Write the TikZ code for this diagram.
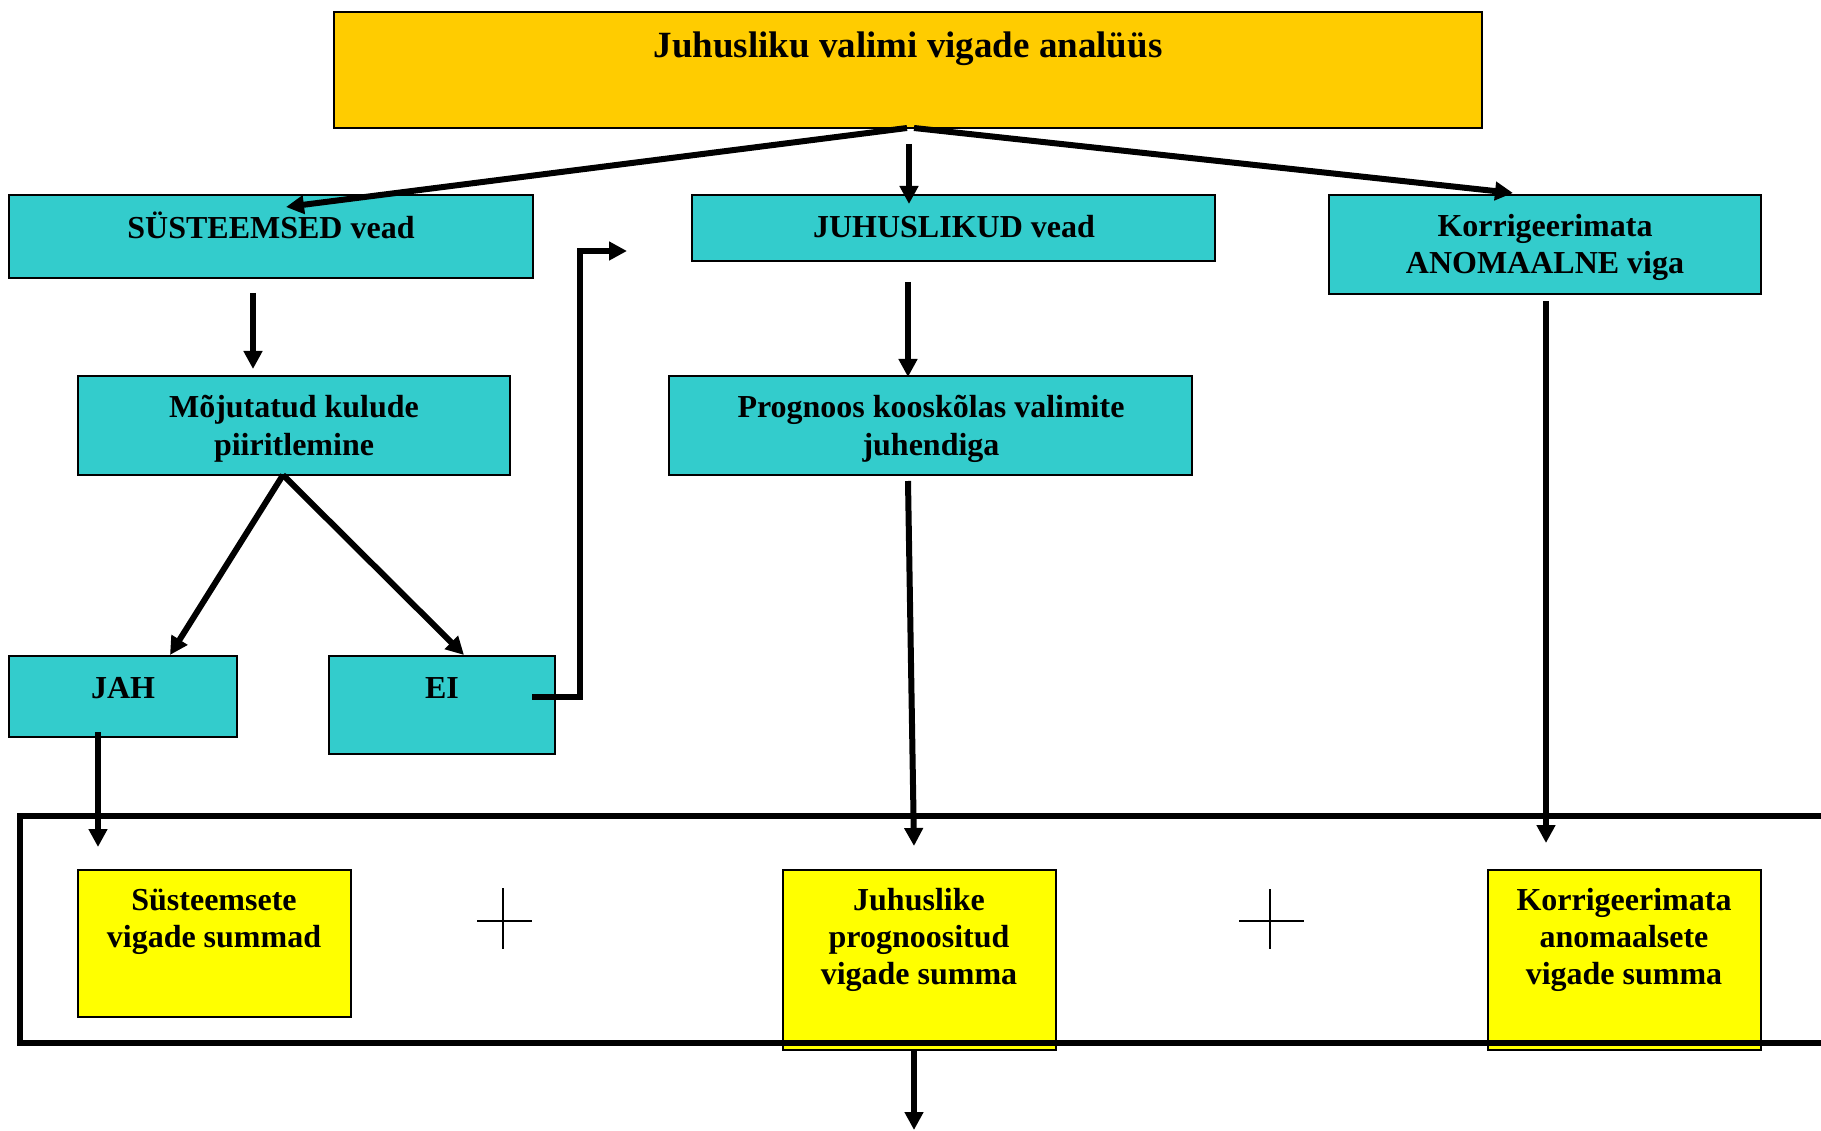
\documentclass[tikz,border=0pt]{standalone}
\usepackage{fontspec}
\setmainfont{Liberation Serif}
\usetikzlibrary{arrows.meta,fit,calc}
\definecolor{gold}{HTML}{FFCC00}
\definecolor{teal2}{HTML}{33CCCC}
\definecolor{yel}{HTML}{FFFF00}
\begin{document}
\begin{tikzpicture}[x=1pt,y=-1pt,
  boxbase/.style={draw=black,line width=1.2pt,inner sep=0pt},
  gbox/.style={boxbase,fill=gold},
  cbox/.style={boxbase,fill=teal2},
  ybox/.style={boxbase,fill=yel},
  txt/.style={font=\fontsize{32}{37}\selectfont\bfseries,align=center,anchor=base,inner sep=0pt},
  ttxt/.style={font=\fontsize{37}{42}\selectfont\bfseries,anchor=base,inner sep=0pt},
  conn/.style={line width=6pt,-{Triangle[length=18pt,width=18pt]}},
  plusline/.style={line width=2pt}]
\useasboundingbox (0,0) rectangle (1821,1131);

% boxes
\node[gbox,fit={(334,12) (1482,128)}] (top) {};
\node[cbox,fit={(9,195) (533,278)}] (sys) {};
\node[cbox,fit={(692,195) (1215,261)}] (juh) {};
\node[cbox,fit={(1329,195) (1761,294)}] (kor) {};
\node[cbox,fit={(78,376) (510,475)}] (moj) {};
\node[cbox,fit={(669,376) (1192,475)}] (prog) {};
\node[cbox,fit={(9,656) (237,737)}] (jah) {};
\node[cbox,fit={(329,656) (555,754)}] (ei) {};
\node[ybox,fit={(78,870) (351,1017)}] (ysys) {};
\node[ybox,fit={(783,870) (1056,1050)}] (yjuh) {};
\node[ybox,fit={(1488,870) (1761,1050)}] (ykor) {};

% frame (open to the right)
\draw[line width=6pt] (1830,816) -- (20,816) -- (20,1043) -- (1830,1043);

% texts (anchor = baseline of last line)
\node[ttxt] (topT) at (908,58) {Juhusliku valimi vigade analüüs};
\node[txt] (sysT) at (271,239) {SÜSTEEMSED vead};
\node[txt] (juhT) at (954,238) {JUHUSLIKUD vead};
\node[txt] (korT) at (1545,274) {Korrigeerimata\\ANOMAALNE viga};
\node[txt] (mojT) at (294,455) {Mõjutatud kulude\\piiritlemine};
\node[txt] (progT) at (931,455) {Prognoos kooskõlas valimite\\juhendiga};
\node[txt] (jahT) at (123,698) {JAH};
\node[txt] (eiT) at (442,698) {EI};
\node[txt] (ysysT) at (214,947) {Süsteemsete\\vigade summad};
\node[txt] (yjuhT) at (919,984) {Juhuslike\\prognoositud\\vigade summa};
\node[txt] (ykorT) at (1624,984) {Korrigeerimata\\anomaalsete\\vigade summa};

% plus signs
\coordinate (p1) at (503,921);
\coordinate (p2) at (1270,921);
\draw[plusline] ($(p1)+(0,-33)$) -- ($(p1)+(0,28)$);
\draw[plusline] ($(p1)+(-26,0)$) -- ($(p1)+(29,0)$);
\draw[plusline] ($(p2)+(0,-32)$) -- ($(p2)+(0,28)$);
\draw[plusline] ($(p2)+(-31,0)$) -- ($(p2)+(34,0)$);

% connector end points
\coordinate (topL) at (907,128);
\coordinate (topR) at (914,128);
\coordinate (topM) at (909,144);
\coordinate (sysIn) at (286,207);
\coordinate (juhIn) at (909,204);
\coordinate (korIn) at (1513,193);
\coordinate (sysOut) at (253,293);
\coordinate (mojIn) at (253,369);
\coordinate (mojOut) at (283,475);
\coordinate (jahIn) at (170,655);
\coordinate (eiIn) at (464,655);
\coordinate (eiOut) at (532,697);
\coordinate (eiUp) at (580,251);
\coordinate (juhSide) at (627,251);
\coordinate (juhOut) at (908,282);
\coordinate (progIn) at (908,377);
\coordinate (progOut) at (908,481);
\coordinate (yjuhIn) at (914,846);
\coordinate (korOut) at (1546,301);
\coordinate (ykorIn) at (1546,843);
\coordinate (jahOut) at (98,732);
\coordinate (ysysIn) at (98,847);
\coordinate (yjuhOut) at (914,1050);
\coordinate (downEnd) at (914,1130);

% connectors
\draw[conn] (topL) -- (sysIn);
\draw[conn] (topM) -- (juhIn);
\draw[conn] (topR) -- (korIn);
\draw[conn] (sysOut) -- (mojIn);
\draw[conn] (mojOut) -- (jahIn);
\draw[conn] (mojOut) -- (eiIn);
\draw[conn] (eiOut) -- (eiOut -| eiUp) -- (eiUp) -- (juhSide);
\draw[conn] (juhOut) -- (progIn);
\draw[conn] (progOut) -- (yjuhIn);
\draw[conn] (korOut) -- (ykorIn);
\draw[conn] (jahOut) -- (ysysIn);
\draw[conn] (yjuhOut) -- (downEnd);
\end{tikzpicture}
\end{document}
